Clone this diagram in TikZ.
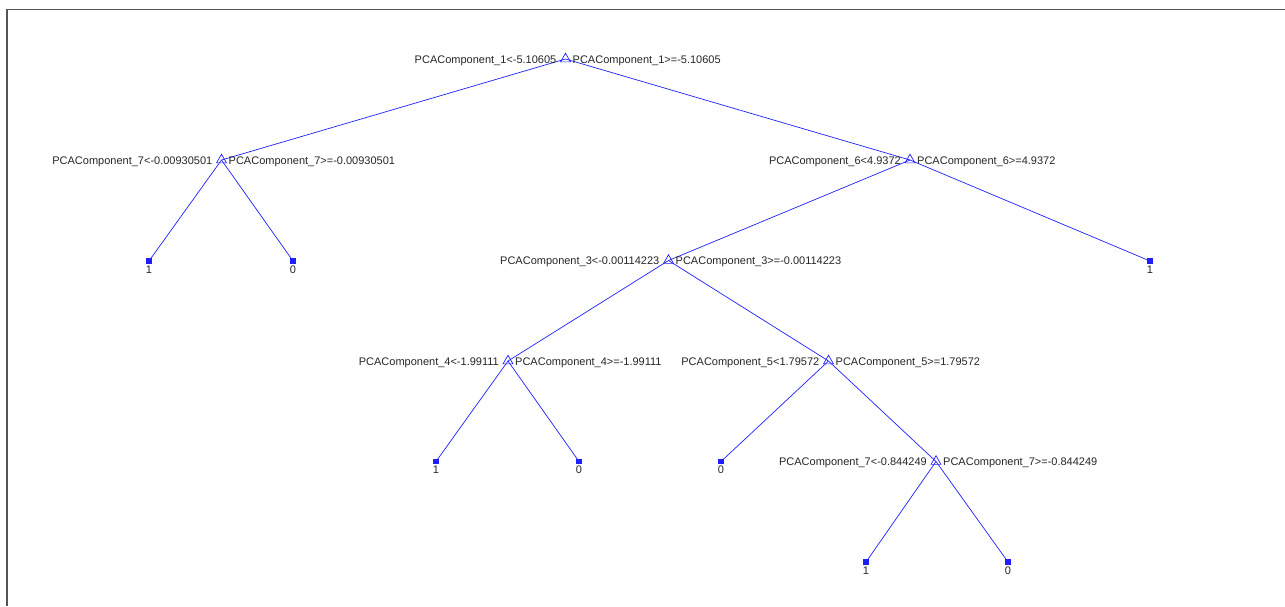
\documentclass[tikz,border=0pt]{standalone}
\usepackage{fontspec}
\setmainfont{Liberation Sans}
\usetikzlibrary{shapes.geometric}
\definecolor{treeblue}{RGB}{30,30,255}
\definecolor{framegray}{RGB}{85,85,85}
\begin{document}
\begin{tikzpicture}[x=1pt,y=-1pt,
  split/.style={regular polygon, regular polygon sides=3, draw=treeblue,
    line width=0.7pt, minimum size=11.5pt, inner sep=0pt},
  leaf/.style={rectangle, fill=treeblue, minimum size=5.5pt, inner sep=0pt},
  edge/.style={draw=treeblue, line width=0.7pt},
  lab/.style={font=\fontsize{11}{13}\selectfont, inner sep=0pt, text=black!85},
  ll/.style={lab, anchor=base east, xshift=-9pt, yshift=-4pt},
  rl/.style={lab, anchor=base west, xshift=7pt, yshift=-4pt},
  leaflab/.style={lab, anchor=base, yshift=-12pt}
]
\useasboundingbox (0,0) rectangle (1285,606);
% frame along the top and left edges
\draw[framegray, line width=1.3pt] (7,606) -- (7,9.5) -- (1285,9.5);

% decision nodes
\node[split] (r) at (565.5,59) {};
\node[split] (a) at (221.5,160) {};
\node[split] (b) at (910,160) {};
\node[split] (c) at (668.5,260.5) {};
\node[split] (d) at (508,361) {};
\node[split] (e) at (828.5,361) {};
\node[split] (f) at (936,461.5) {};

% leaves
\node[leaf] (a1) at (149,261) {};
\node[leaf] (a2) at (293,261) {};
\node[leaf] (b2) at (1150,261) {};
\node[leaf] (d1) at (436,461.5) {};
\node[leaf] (d2) at (579,461.5) {};
\node[leaf] (e1) at (721,461.5) {};
\node[leaf] (f1) at (866,562) {};
\node[leaf] (f2) at (1008,562) {};

% branches
\foreach \p/\q in {r/a, r/b, a/a1, a/a2, b/c, b/b2, c/d, c/e,
                   d/d1, d/d2, e/e1, e/f, f/f1, f/f2}
  \draw[edge] (\p.center) -- (\q.center);

% split conditions
\node[ll] (rL) at (r) {PCAComponent\_1<-5.10605};
\node[rl] (rR) at (r) {PCAComponent\_1>=-5.10605};
\node[ll] (aL) at (a) {PCAComponent\_7<-0.00930501};
\node[rl] (aR) at (a) {PCAComponent\_7>=-0.00930501};
\node[ll] (bL) at (b) {PCAComponent\_6<4.9372};
\node[rl] (bR) at (b) {PCAComponent\_6>=4.9372};
\node[ll] (cL) at (c) {PCAComponent\_3<-0.00114223};
\node[rl] (cR) at (c) {PCAComponent\_3>=-0.00114223};
\node[ll] (dL) at (d) {PCAComponent\_4<-1.99111};
\node[rl] (dR) at (d) {PCAComponent\_4>=-1.99111};
\node[ll] (eL) at (e) {PCAComponent\_5<1.79572};
\node[rl] (eR) at (e) {PCAComponent\_5>=1.79572};
\node[ll] (fL) at (f) {PCAComponent\_7<-0.844249};
\node[rl] (fR) at (f) {PCAComponent\_7>=-0.844249};

% class labels
\node[leaflab] (a1t) at (a1) {1};
\node[leaflab] (a2t) at (a2) {0};
\node[leaflab] (b2t) at (b2) {1};
\node[leaflab] (d1t) at (d1) {1};
\node[leaflab] (d2t) at (d2) {0};
\node[leaflab] (e1t) at (e1) {0};
\node[leaflab] (f1t) at (f1) {1};
\node[leaflab] (f2t) at (f2) {0};
\end{tikzpicture}
\end{document}
